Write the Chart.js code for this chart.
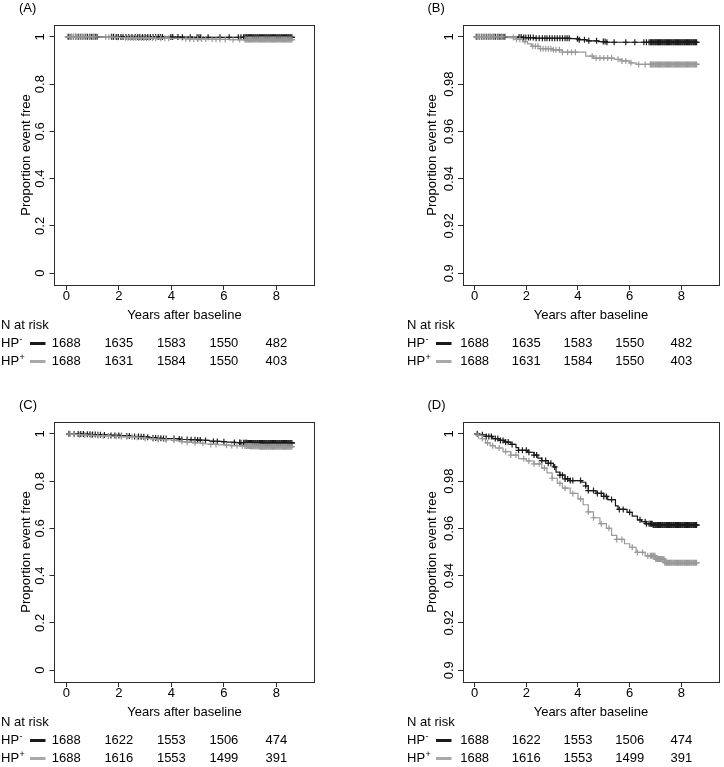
<!DOCTYPE html>
<html>
<head>
<meta charset="utf-8">
<script src="https://cdn.jsdelivr.net/npm/chart.js@4.4.1/dist/chart.umd.min.js"></script>
<style>
    html, body { margin: 0; padding: 0; background: #fff; }
    body { width: 724px; height: 767px; position: relative; overflow: hidden; }
    canvas { position: absolute; }
    #panelA { left: 0; top: 0; }
    #panelB { left: 406px; top: 0; }
    #panelC { left: 0; top: 397px; }
    #panelD { left: 406px; top: 397px; }
</style>
</head>
<body>
<canvas id="panelA" width="362" height="380"></canvas>
<canvas id="panelB" width="318" height="380"></canvas>
<canvas id="panelC" width="362" height="370"></canvas>
<canvas id="panelD" width="318" height="370"></canvas>
<script>
// Axis ticks
const xTicks = [0, 2, 4, 6, 8];
const yTicksFull = [0, 0.2, 0.4, 0.6, 0.8, 1];
const yTicksZoom = [0.9, 0.92, 0.94, 0.96, 0.98, 1];

// Risk table
const riskTimes = [0, 2, 4, 6, 8];
const riskNegAB = [1688, 1635, 1583, 1550, 482];
const riskPosAB = [1688, 1631, 1584, 1550, 403];
const riskNegCD = [1688, 1622, 1553, 1506, 474];
const riskPosCD = [1688, 1616, 1553, 1499, 391];

// Panels A/B: Kaplan-Meier steps (time in years, proportion event free)
const abTimesNeg = [0, 1.25, 1.9, 2.3, 3.7, 4.0, 4.35, 4.8, 5.1, 8.7];
const abSurvNeg = [1, 0.9999, 0.9997, 0.9994, 0.9992, 0.9988, 0.9983, 0.998, 0.9977, 0.9977];
const abTimesPos = [0, 1.3, 1.6, 1.85, 2.05, 2.2, 2.55, 3.0, 3.4, 4.3, 4.6, 5.4, 5.7, 6.0, 6.25, 8.7];
const abSurvPos = [1, 0.9997, 0.999, 0.998, 0.997, 0.996, 0.995, 0.9945, 0.9935, 0.9918, 0.991, 0.9905, 0.9898, 0.989, 0.9883, 0.9883];

// Panels C/D
const cdTimesNeg = [0, 0.2, 0.45, 0.7, 0.95, 1.15, 1.4, 1.6, 1.7, 2.05, 2.3, 2.45, 2.6, 2.85, 3.05, 3.15, 3.3, 3.5, 3.7, 4.15, 4.3, 4.4, 4.7, 5.0, 5.15, 5.45, 5.55, 5.9, 6.1, 6.3, 6.45, 6.65, 6.9, 8.7];
const cdSurvNeg = [1, 0.9996, 0.9989, 0.998, 0.9972, 0.9965, 0.9955, 0.9942, 0.993, 0.9922, 0.991, 0.9897, 0.9887, 0.9875, 0.986, 0.9838, 0.9825, 0.9809, 0.9802, 0.9795, 0.978, 0.976, 0.9748, 0.9735, 0.9722, 0.9695, 0.968, 0.9668, 0.9652, 0.9636, 0.9628, 0.962, 0.9614, 0.9614];
const cdTimesPos = [0, 0.15, 0.3, 0.42, 0.6, 0.8, 1.1, 1.4, 1.7, 2.0, 2.3, 2.6, 2.8, 3.0, 3.2, 3.4, 3.7, 4.0, 4.2, 4.4, 4.6, 4.85, 5.1, 5.3, 5.5, 5.8, 6.0, 6.25, 6.6, 7.0, 7.35, 8.7];
const cdSurvPos = [1, 0.9993, 0.998, 0.9962, 0.995, 0.994, 0.9925, 0.991, 0.9895, 0.9885, 0.9873, 0.9855, 0.9835, 0.9812, 0.979, 0.977, 0.9748, 0.9725, 0.97, 0.967, 0.9645, 0.962, 0.96, 0.957, 0.9553, 0.9535, 0.952, 0.9498, 0.9484, 0.947, 0.9455, 0.9455];

// Censoring times
const abCensorNeg = [0.08, 0.18, 0.27, 0.36, 0.46, 0.55, 0.63, 0.72, 0.8, 0.88, 0.95, 1.02, 1.1, 1.17, 1.72, 1.8, 1.9, 1.98, 2.08, 2.16, 2.27, 2.38, 2.5, 2.62, 2.72, 2.8, 2.9, 3.0, 3.1, 3.2, 3.3, 3.4, 3.5, 3.58, 3.66, 3.98, 4.05, 4.25, 4.42, 4.72, 4.98, 5.05, 5.12, 5.4, 5.85, 6.2, 6.55, 6.65, 6.75];
const abCensorPos = [0.05, 0.12, 0.2, 0.28, 0.36, 0.44, 0.52, 0.62, 0.75, 0.9, 1.05, 1.5, 1.62, 1.75, 1.95, 2.25, 2.35, 2.45, 2.55, 2.65, 2.75, 2.85, 2.95, 3.05, 3.15, 3.28, 3.4, 3.6, 3.75, 3.9, 4.55, 4.7, 4.85, 5.0, 5.15, 5.3, 5.55, 5.7, 5.85, 6.05, 6.35, 6.6];
const cdCensorNeg = [0.1, 0.3, 0.45, 0.55, 0.65, 0.8, 0.9, 1.0, 1.1, 1.2, 1.3, 1.45, 1.7, 1.85, 2.0, 2.1, 2.3, 2.4, 2.6, 2.75, 2.85, 2.95, 3.1, 3.3, 3.4, 3.5, 3.6, 3.7, 3.8, 4.1, 4.3, 4.4, 4.6, 4.75, 4.9, 5.0, 5.1, 5.3, 5.6, 5.75, 6.0, 6.4, 6.6, 6.65, 6.75];
const cdCensorPos = [0.15, 0.3, 0.5, 0.7, 0.95, 1.2, 1.4, 1.6, 1.9, 2.1, 2.3, 2.5, 2.7, 3.0, 3.3, 3.5, 3.8, 4.1, 4.4, 4.6, 4.9, 5.2, 5.5, 5.7, 6.1, 6.3, 6.5, 6.7];
// administrative censoring at the end of follow-up, very dense
const lateCensor = [6.8, 6.84, 6.87, 6.91, 6.94, 6.98, 7.01, 7.05, 7.08, 7.12, 7.15, 7.19, 7.22, 7.26, 7.29, 7.33, 7.36, 7.4, 7.43, 7.47, 7.5, 7.54, 7.57, 7.61, 7.64, 7.68, 7.71, 7.75, 7.78, 7.82, 7.85, 7.89, 7.92, 7.96, 7.99, 8.03, 8.06, 8.1, 8.13, 8.17, 8.2, 8.24, 8.27, 8.31, 8.34, 8.38, 8.41, 8.45, 8.48, 8.52, 8.55, 8.59];

const BLACK = '#1a1a1a';
const GREY = '#999999';
const KEY_GREY = '#a8a8a8';
const AXIS = '#2a2a2a';
const TEXT = '#000000';
const FONT = "'Liberation Sans', Arial, Helvetica, sans-serif";

Chart.defaults.font.family = FONT;
Chart.defaults.font.size = 13;
Chart.defaults.color = TEXT;

// value of the step function at time t
function survAt(times, surv, t) {
    let s = surv[0];
    for (let i = 0; i < times.length; i++) {
        if (times[i] <= t) s = surv[i];
    }
    return s;
}

// box, rotated y labels, panel letter and the numbers-at-risk table
const panelDecor = {
    id: 'panelDecor',
    afterDraw(chart, args, opts) {
        const { ctx, chartArea: a, scales: { x, y } } = chart;
        ctx.save();
        ctx.strokeStyle = AXIS;
        ctx.lineWidth = 1;
        ctx.strokeRect(Math.floor(a.left) + 0.5, Math.floor(a.top) + 0.5, Math.round(a.width), Math.round(a.height));

        ctx.fillStyle = TEXT;
        ctx.font = '13px ' + FONT;
        ctx.textAlign = 'center';
        ctx.textBaseline = 'middle';
        opts.yTicks.forEach(v => {
            ctx.save();
            ctx.translate(a.left - 14, y.getPixelForValue(v));
            ctx.rotate(-Math.PI / 2);
            ctx.fillText(String(v), 0, 0);
            ctx.restore();
        });

        ctx.textAlign = 'left';
        ctx.fillText('(' + opts.letter + ')', a.left - 35.5, 8);

        const b = a.bottom;
        ctx.fillText('N at risk', 1, b + 40);
        const rows = [
            { sign: '-', color: BLACK, counts: opts.riskNeg, y: b + 58.5 },
            { sign: '+', color: KEY_GREY, counts: opts.riskPos, y: b + 76.5 }
        ];
        rows.forEach(r => {
            ctx.fillStyle = TEXT;
            ctx.font = '13px ' + FONT;
            ctx.textAlign = 'left';
            ctx.fillText('HP', 1, r.y);
            const w = ctx.measureText('HP').width;
            ctx.font = '9px ' + FONT;
            ctx.fillText(r.sign, 1 + w + 0.5, r.y - 4);
            ctx.strokeStyle = r.color;
            ctx.lineWidth = 3;
            ctx.beginPath();
            ctx.moveTo(30, r.y);
            ctx.lineTo(45.5, r.y);
            ctx.stroke();
            ctx.font = '13px ' + FONT;
            ctx.textAlign = 'center';
            r.counts.forEach((n, i) => {
                ctx.fillText(String(n), x.getPixelForValue(riskTimes[i]), r.y);
            });
        });
        ctx.restore();
    }
};

function curve(times, surv, color) {
    return {
        data: times.map((t, i) => ({ x: t, y: surv[i] })),
        showLine: true,
        stepped: 'before',
        borderColor: color,
        borderWidth: 1.2,
        pointRadius: 0,
        fill: false
    };
}

function censorMarks(times, surv, censor, color) {
    return {
        data: censor.map(t => ({ x: t, y: survAt(times, surv, t) })),
        showLine: false,
        pointStyle: 'cross',
        pointRadius: 3,
        pointBorderWidth: 1.2,
        borderColor: color,
        backgroundColor: color
    };
}

function drawPanel(p) {
    const canvas = document.getElementById(p.canvas);
    const boxTop = 25, boxBottom = 285, xAxisH = 40;
    const datasets = [
        curve(p.timesPos, p.survPos, GREY),
        censorMarks(p.timesPos, p.survPos, p.censorPos.concat(lateCensor), GREY),
        curve(p.timesNeg, p.survNeg, BLACK),
        censorMarks(p.timesNeg, p.survNeg, p.censorNeg.concat(lateCensor), BLACK)
    ];
    new Chart(canvas, {
        type: 'scatter',
        data: { datasets },
        options: {
            responsive: false,
            animation: false,
            events: [],
            layout: {
                padding: {
                    left: 0,
                    top: boxTop,
                    right: canvas.width - p.boxRight,
                    bottom: canvas.height - boxBottom - xAxisH
                }
            },
            plugins: {
                legend: { display: false },
                tooltip: { enabled: false },
                panelDecor: {
                    letter: p.letter,
                    yTicks: p.yTicks,
                    riskNeg: p.riskNeg,
                    riskPos: p.riskPos
                }
            },
            scales: {
                x: {
                    type: 'linear',
                    min: -0.45,
                    max: 9.45,
                    afterBuildTicks: s => { s.ticks = xTicks.map(v => ({ value: v })); },
                    afterFit: s => { s.height = xAxisH; },
                    border: { display: false },
                    grid: { drawOnChartArea: false, drawTicks: true, tickLength: 5, color: AXIS },
                    ticks: { padding: 0, font: { size: 13, lineHeight: 1 }, color: TEXT, maxRotation: 0 },
                    title: {
                        display: true,
                        text: 'Years after baseline',
                        font: { size: 13, lineHeight: 1 },
                        padding: { top: 0, bottom: 3.5 },
                        color: TEXT
                    }
                },
                y: {
                    type: 'linear',
                    min: p.yMin,
                    max: p.yMax,
                    afterBuildTicks: s => { s.ticks = p.yTicks.map(v => ({ value: v })); },
                    afterFit: s => { s.width = p.boxLeft; },
                    border: { display: false },
                    grid: { drawOnChartArea: false, drawTicks: true, tickLength: 5, color: AXIS },
                    ticks: { display: false },
                    title: {
                        display: true,
                        text: 'Proportion event free',
                        font: { size: 13, lineHeight: 1 },
                        padding: { top: 19.5, bottom: 0 },
                        color: TEXT
                    }
                }
            }
        },
        plugins: [panelDecor]
    });
}

const panels = [
    { canvas: 'panelA', letter: 'A', boxLeft: 54.5, boxRight: 314.5, yMin: -0.05, yMax: 1.05, yTicks: yTicksFull,
      timesNeg: abTimesNeg, survNeg: abSurvNeg, censorNeg: abCensorNeg,
      timesPos: abTimesPos, survPos: abSurvPos, censorPos: abCensorPos,
      riskNeg: riskNegAB, riskPos: riskPosAB },
    { canvas: 'panelB', letter: 'B', boxLeft: 57, boxRight: 317, yMin: 0.895, yMax: 1.005, yTicks: yTicksZoom,
      timesNeg: abTimesNeg, survNeg: abSurvNeg, censorNeg: abCensorNeg,
      timesPos: abTimesPos, survPos: abSurvPos, censorPos: abCensorPos,
      riskNeg: riskNegAB, riskPos: riskPosAB },
    { canvas: 'panelC', letter: 'C', boxLeft: 54.5, boxRight: 314.5, yMin: -0.05, yMax: 1.05, yTicks: yTicksFull,
      timesNeg: cdTimesNeg, survNeg: cdSurvNeg, censorNeg: cdCensorNeg,
      timesPos: cdTimesPos, survPos: cdSurvPos, censorPos: cdCensorPos,
      riskNeg: riskNegCD, riskPos: riskPosCD },
    { canvas: 'panelD', letter: 'D', boxLeft: 57, boxRight: 317, yMin: 0.895, yMax: 1.005, yTicks: yTicksZoom,
      timesNeg: cdTimesNeg, survNeg: cdSurvNeg, censorNeg: cdCensorNeg,
      timesPos: cdTimesPos, survPos: cdSurvPos, censorPos: cdCensorPos,
      riskNeg: riskNegCD, riskPos: riskPosCD }
];

panels.forEach(drawPanel);
</script>
</body>
</html>
